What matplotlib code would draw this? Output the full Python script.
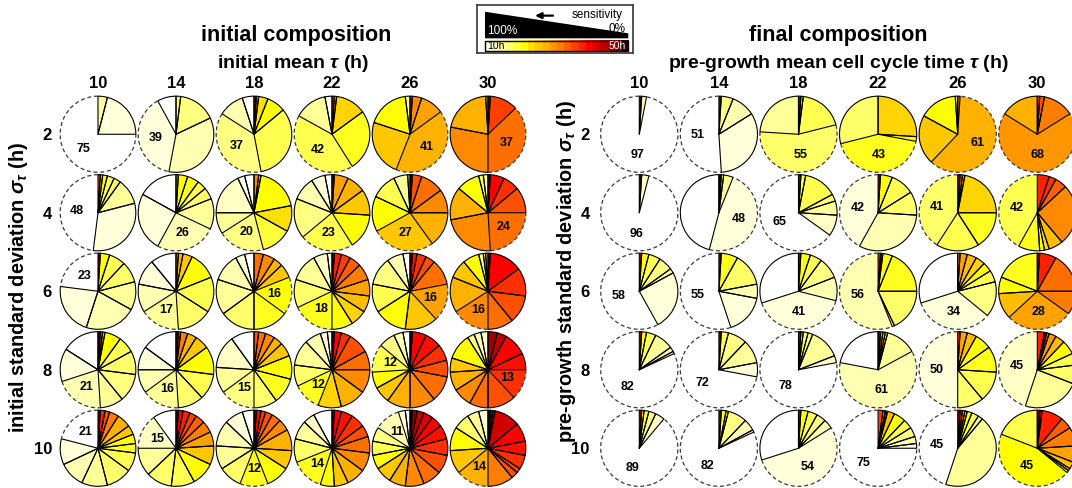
import numpy as np
import matplotlib.pyplot as plt
from matplotlib.patches import Wedge, Arc, Polygon, Rectangle
from matplotlib.colors import LinearSegmentedColormap, Normalize

plt.rcParams['font.family'] = ['Liberation Sans', 'DejaVu Sans']
plt.rcParams['mathtext.fontset'] = 'custom'
plt.rcParams['mathtext.it'] = 'Liberation Sans:italic:bold'
plt.rcParams['mathtext.rm'] = 'Liberation Sans:bold'

# column / row headings
mean_tau = ['10', '14', '18', '22', '26', '30']
sd_tau = ['2', '4', '6', '8', '10']

# each pie: (cell cycle time tau in h, share in %), clockwise from 12 o'clock
init_sd2 = [
    [(15, 4), (12, 21), (10, 75)],
    [(18, 2), (16, 16), (14, 35), (12, 39), (10, 8)],
    [(46, 1), (32, 1), (23, 4), (21, 8), (18, 33), (16, 37), (14, 11), (10, 5)],
    [(34, 1), (30, 1), (24, 13), (20, 26), (18, 42), (15, 14), (11, 3)],
    [(35, 1), (30, 4), (28, 10), (27, 41), (25, 24), (21, 18), (14, 2)],
    [(45, 1), (35, 12), (32, 37), (30, 28), (27, 21), (20, 1)],
]
init_sd4 = [
    [(33, 1), (25, 1), (21, 2), (18, 3), (17, 3), (15, 11), (12, 31), (10, 48)],
    [(25, 1), (21, 4), (20, 5), (18, 4), (17, 5), (15, 13), (14, 26), (12, 25), (10, 17)],
    [(30, 2), (25, 1), (21, 19), (23, 11), (19, 13), (16, 20), (15, 9), (13, 18), (11, 3), (10, 4)],
    [(46, 1), (28, 6), (27, 8), (25, 11), (21, 15), (18, 23), (16, 17), (14, 10), (12, 6), (10, 3)],
    [(46, 1), (34, 4), (32, 10), (30, 10), (27, 15), (25, 27), (21, 15), (18, 11), (15, 6), (12, 1)],
    [(45, 1), (39, 6), (36, 7), (34, 11), (32, 24), (30, 23), (27, 14), (21, 10), (18, 2), (14, 2)],
]
init_sd6 = [
    [(46, 1), (21, 4), (18, 7), (17, 9), (15, 12), (14, 22), (12, 22), (10, 23)],
    [(28, 1), (27, 2), (25, 4), (21, 12), (18, 15), (17, 15), (15, 17), (14, 12), (12, 11), (10, 11)],
    [(32, 4), (30, 5), (27, 4), (25, 6), (21, 16), (20, 15), (17, 15), (15, 15), (14, 12), (12, 4), (10, 4)],
    [(43, 1), (37, 3), (35, 4), (33, 5), (31, 7), (28, 7), (26, 7), (24, 7), (21, 9), (20, 18),
     (17, 12), (15, 12), (13, 6), (10, 2)],
    [(43, 1), (38, 2), (36, 4), (34, 4), (32, 11), (28, 16), (25, 14), (21, 14), (18, 12), (16, 12),
     (14, 7), (10, 3)],
    [(45, 1), (39, 14), (36, 12), (34, 12), (32, 11), (30, 16), (27, 15), (25, 8), (21, 7), (16, 2),
     (14, 1), (12, 1)],
]
init_sd8 = [
    [(46, 1), (35, 1), (25, 1), (21, 7), (18, 7), (17, 10), (16, 12), (15, 10), (14, 21), (12, 14), (10, 16)],
    [(46, 1), (35, 1), (31, 3), (27, 4), (25, 6), (21, 12), (18, 11), (17, 11), (15, 16), (14, 10),
     (12, 10), (10, 15)],
    [(34, 2), (32, 3), (30, 4), (27, 4), (25, 6), (21, 10), (20, 11), (17, 10), (16, 15), (15, 11),
     (13, 14), (10, 10)],
    [(46, 1), (39, 3), (36, 4), (34, 9), (32, 8), (30, 10), (27, 11), (24, 10), (20, 12), (17, 9),
     (15, 11), (14, 7), (12, 3), (10, 2)],
    [(46, 1), (39, 6), (38, 7), (36, 7), (34, 7), (32, 11), (30, 11), (27, 10), (25, 7), (21, 7),
     (18, 12), (16, 7), (14, 4), (10, 3)],
    [(45, 4), (43, 4), (39, 10), (38, 7), (36, 13), (34, 12), (32, 8), (30, 8), (27, 8), (25, 6),
     (21, 11), (16, 3), (14, 3), (12, 3)],
]
init_sd10 = [
    [(46, 1), (37, 2), (34, 2), (31, 4), (27, 6), (25, 4), (21, 4), (20, 4), (18, 8), (17, 11),
     (15, 11), (14, 11), (12, 11), (10, 21)],
    [(45, 1), (39, 2), (37, 3), (35, 3), (33, 4), (31, 5), (28, 6), (25, 8), (21, 10), (18, 10),
     (17, 11), (15, 12), (13, 15), (10, 10)],
    [(45, 1), (39, 2), (36, 2), (34, 3), (32, 4), (30, 5), (27, 9), (25, 8), (21, 10), (20, 12),
     (17, 10), (15, 10), (14, 11), (12, 8), (10, 5)],
    [(43, 1), (39, 3), (38, 5), (36, 6), (34, 5), (32, 7), (30, 8), (27, 8), (25, 6), (21, 6),
     (20, 14), (17, 10), (15, 8), (13, 5), (10, 8)],
    [(48, 1), (46, 2), (43, 3), (41, 4), (39, 5), (38, 6), (36, 7), (34, 8), (32, 8), (30, 8),
     (27, 7), (25, 7), (21, 6), (18, 6), (16, 6), (14, 11), (12, 3), (10, 2)],
    [(49, 1), (46, 1), (45, 1), (42, 11), (39, 8), (38, 6), (36, 6), (35, 2), (34, 3), (31, 11),
     (27, 14), (25, 10), (21, 10), (17, 7), (15, 5), (12, 4)],
]

final_sd2 = [
    [(49, 1), (14, 2), (10, 97)],
    [(46, 1), (16, 5), (14, 10), (12, 33), (10, 51)],
    [(46, 1), (20, 1), (18, 19), (17, 55), (15, 24)],
    [(24, 26), (21, 2), (20, 43), (17, 29)],
    [(32, 1), (27, 61), (25, 21), (21, 16), (15, 1)],
    [(35, 1), (34, 2), (31, 13), (29, 68), (27, 16)],
]
final_sd4 = [
    [(49, 1), (13, 3), (10, 96)],
    [(49, 1), (21, 1), (15, 4), (12, 48), (10, 46)],
    [(46, 1), (20, 2), (18, 14), (17, 3), (15, 6), (13, 9), (10, 65)],
    [(46, 1), (21, 5), (18, 10), (17, 10), (14, 32), (12, 42)],
    [(46, 1), (30, 1), (28, 1), (24, 22), (20, 16), (18, 18), (17, 41)],
    [(37, 5), (36, 3), (33, 5), (30, 26), (26, 6), (23, 2), (21, 2), (20, 9), (18, 42)],
]
final_sd6 = [
    [(46, 1), (21, 3), (18, 5), (16, 6), (15, 2), (12, 25), (10, 58)],
    [(46, 1), (20, 7), (17, 14), (14, 6), (12, 17), (10, 55)],
    [(46, 1), (21, 4), (18, 5), (16, 9), (14, 10), (12, 41), (10, 30)],
    [(35, 1), (46, 1), (21, 4), (20, 19), (17, 18), (16, 1), (14, 56)],
    [(31, 1), (28, 3), (26, 4), (24, 4), (21, 4), (18, 5), (16, 15), (12, 34), (10, 30)],
    [(46, 1), (37, 7), (32, 17), (31, 10), (28, 28), (26, 11), (21, 7), (20, 19)],
]
final_sd8 = [
    [(46, 1), (21, 2), (18, 4), (15, 8), (14, 2), (12, 1), (10, 82)],
    [(46, 1), (18, 3), (16, 8), (15, 10), (12, 6), (10, 72)],
    [(46, 1), (21, 1), (18, 2), (16, 2), (15, 13), (13, 3), (10, 78)],
    [(46, 1), (29, 1), (24, 1), (21, 1), (15, 13), (14, 61), (10, 22)],
    [(37, 1), (28, 3), (26, 4), (21, 7), (20, 11), (18, 13), (17, 11), (12, 50)],
    [(37, 3), (46, 1), (31, 1), (29, 3), (26, 4), (21, 6), (18, 5), (17, 8), (15, 24), (13, 45)],
]
final_sd10 = [
    [(46, 1), (21, 1), (18, 2), (16, 3), (13, 4), (10, 89)],
    [(46, 1), (21, 2), (20, 1), (16, 8), (14, 5), (12, 1), (10, 82)],
    [(46, 1), (21, 3), (18, 4), (16, 4), (14, 4), (12, 54), (10, 30)],
    [(35, 2), (31, 1), (46, 1), (26, 3), (21, 5), (18, 4), (16, 4), (14, 3), (12, 2), (10, 75)],
    [(46, 1), (36, 1), (29, 1), (25, 1), (21, 2), (18, 3), (16, 2), (15, 44), (10, 45)],
    [(46, 1), (44, 1), (37, 9), (33, 5), (31, 8), (28, 7), (26, 3), (23, 1), (21, 1), (21, 45), (18, 19)],
]

initial = [init_sd2, init_sd4, init_sd6, init_sd8, init_sd10]
final = [final_sd2, final_sd4, final_sd6, final_sd8, final_sd10]

# white -> yellow -> orange -> red -> black, 10 h to 50 h
anchor_tau = [10, 12, 14, 16, 18, 20, 21, 23, 25, 27, 29, 31, 33, 35, 37, 39, 42, 45, 48, 50]
anchor_col = ['#ffffff', '#ffffd8', '#ffffb0', '#ffff80', '#ffff50', '#ffff20', '#ffff00', '#ffe000',
              '#ffc800', '#ffb000', '#ff9600', '#ff7d00', '#ff6000', '#ff4000', '#ff2000', '#ff0000',
              '#d00000', '#a00000', '#600000', '#000000']
cmap = LinearSegmentedColormap.from_list(
    'tau', [((t - 10) / 40, c) for t, c in zip(anchor_tau, anchor_col)])
norm = Normalize(10, 50)

R = 0.485


def draw_pie(ax, cx, cy, slices):
    taus = [s[0] for s in slices]
    pct = np.array([s[1] for s in slices], float)
    frac = pct / pct.sum() * 360
    ends = np.cumsum(frac)
    starts = ends - frac
    big = int(np.argmax(pct))
    for t, a0, a1 in zip(taus, starts, ends):
        ax.add_patch(Wedge((cx, cy), R, 90 - a1, 90 - a0, facecolor=cmap(norm(t)),
                           edgecolor='none', zorder=1))
    for i, (a0, a1) in enumerate(zip(starts, ends)):
        if i == big:
            continue
        ax.add_patch(Wedge((cx, cy), R, 90 - a1, 90 - a0, fill=False, edgecolor='black',
                           lw=0.8, joinstyle='round', zorder=2))
    # largest share: dashed rim and its value
    a0, a1 = starts[big], ends[big]
    ax.add_patch(Arc((cx, cy), 2 * R, 2 * R, theta1=90 - a1, theta2=90 - a0,
                     color='#3a3a3a', lw=0.9, ls=(0, (3.2, 2.2)), zorder=3))
    mid = np.radians((a0 + a1) / 2)
    ax.text(cx + 0.55 * R * np.sin(mid), cy + 0.55 * R * np.cos(mid), f'{pct[big]:.0f}',
            ha='center', va='center', fontsize=9, fontweight='bold', zorder=4)


def draw_grid(ax, rows, xlabel, ylabel, ypad, ylab_x, ylab_y):
    for r, row in enumerate(rows):
        for c, slices in enumerate(row):
            draw_pie(ax, c, len(rows) - 1 - r, slices)
    ax.set_xlim(-0.5, 5.5)
    ax.set_ylim(-0.5, 4.5)
    ax.set_xticks(range(6))
    ax.set_xticklabels(mean_tau, fontsize=12, fontweight='bold')
    ax.set_yticks(range(5))
    ax.set_yticklabels(sd_tau[::-1], fontsize=12, fontweight='bold')
    ax.xaxis.tick_top()
    ax.tick_params(axis='x', length=0, pad=3)
    ax.tick_params(axis='y', length=0, pad=ypad)
    ax.xaxis.set_label_position('top')
    ax.set_xlabel(xlabel, fontsize=14, fontweight='bold')
    ax.xaxis.set_label_coords(0.5, 1.07)
    ax.set_ylabel(ylabel, fontsize=14.3, fontweight='bold')
    ax.yaxis.set_label_coords(ylab_x, ylab_y)
    for s in ax.spines.values():
        s.set_visible(False)
    ax.patch.set_alpha(0)


W, H = 1072, 488
fig = plt.figure(figsize=(W / 100, H / 100), dpi=100)

axL = fig.add_axes([59 / W, 0.5 / H, 468 / W, 392.5 / H])
draw_grid(axL, initial, r'initial mean $\tau$ (h)',
          r'initial standard deviation $\sigma_\tau$ (h)', 5, -0.062, 0.51)
axR = fig.add_axes([599.5 / W, 0.5 / H, 477.6 / W, 392.5 / H])
draw_grid(axR, final, r'pre-growth mean cell cycle time $\tau$ (h)',
          r'pre-growth standard deviation $\sigma_\tau$ (h)', 7, -0.045, 0.55)

fig.text(296 / W, 1 - 35 / H, 'initial composition', ha='center', va='center',
         fontsize=15.5, fontweight='bold')
fig.text(838 / W, 1 - 35 / H, 'final composition', ha='center', va='center',
         fontsize=15.5, fontweight='bold')

# key: sensitivity wedge and cycle-time colour scale
lax = fig.add_axes([476.7 / W, 1 - 53.3 / H, 156.6 / W, 48.3 / H])
lax.add_patch(Polygon([(0.053, 0.31), (0.053, 0.86), (0.968, 0.414), (0.968, 0.31)],
                      closed=True, facecolor='black', edgecolor='none'))
scale = np.arange(10, 50, 2) + 1
lax.imshow(scale[None, :], cmap=cmap, norm=norm, extent=(0.053, 0.968, 0.055, 0.265),
           aspect='auto', interpolation='nearest')
lax.add_patch(Rectangle((0.053, 0.055), 0.915, 0.21, fill=False, edgecolor='black', lw=1))
lax.text(0.064, 0.47, '100%', color='white', fontsize=8.5, ha='left', va='center')
lax.text(0.95, 0.50, '0%', color='black', fontsize=8.5, ha='right', va='center')
lax.text(0.935, 0.80, 'sensitivity', color='black', fontsize=8.5, ha='right', va='center')
lax.annotate('', xy=(0.355, 0.78), xytext=(0.505, 0.78),
             arrowprops=dict(arrowstyle='-|>', color='black', lw=1.6, mutation_scale=9))
lax.text(0.07, 0.16, '10h', color='black', fontsize=7.5, ha='left', va='center')
lax.text(0.955, 0.16, '50h', color='white', fontsize=7.5, ha='right', va='center')
lax.set_xlim(0, 1)
lax.set_ylim(0, 1)
lax.set_xticks([])
lax.set_yticks([])
for s in lax.spines.values():
    s.set_linewidth(1.3)
    s.set_edgecolor('#444444')

fig.savefig('out.png', dpi=100)
